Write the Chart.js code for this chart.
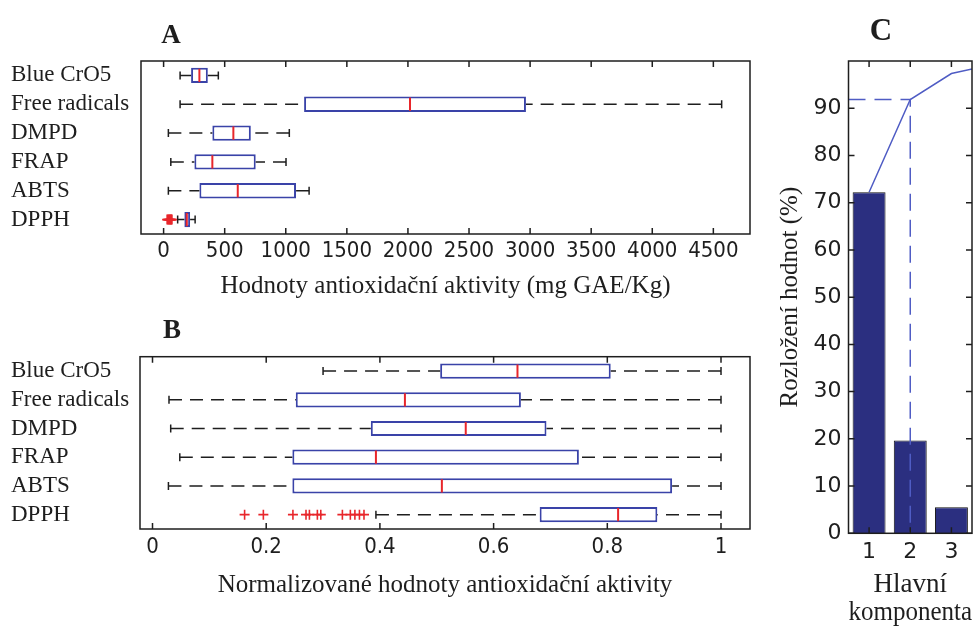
<!DOCTYPE html>
<html>
<head>
<meta charset="utf-8">
<script src="https://cdn.jsdelivr.net/npm/chart.js@4"></script>
<style>
html,body{margin:0;padding:0;background:#fff;}
#wrap{position:relative;width:977px;height:630px;overflow:hidden;background:#fff;}
canvas{position:absolute;}
#cA{left:0;top:0;}
#cB{left:0;top:300px;}
#cC{left:760px;top:0;}
</style>
</head>
<body>
<div id="wrap">
  <canvas id="cA" width="760" height="320"></canvas>
  <canvas id="cB" width="760" height="330"></canvas>
  <canvas id="cC" width="217" height="630"></canvas>
</div>
<script>
// ---------------- DATA ----------------
const categories = ['Blue CrO5', 'Free radicals', 'DMPD', 'FRAP', 'ABTS', 'DPPH'];

// Panel A: antioxidant activity (mg GAE/Kg)
const aWhiskerLow  = [135, 135, 39, 59, 39, 115];
const aQ1          = [225, 1150, 399, 252, 293, 170];
const aMedian      = [293, 2017, 571, 399, 607, 190];
const aQ3          = [362, 2966, 714, 754, 1084, 217];
const aWhiskerHigh = [448, 4568, 1029, 1002, 1191, 258];
const aOutliers    = [[], [], [], [], [], [29, 36, 42, 48, 53, 58, 63, 68]];
const aTicks       = [0, 500, 1000, 1500, 2000, 2500, 3000, 3500, 4000, 4500];

// Panel B: normalized antioxidant activity
const bWhiskerLow  = [0.300, 0.029, 0.032, 0.048, 0.028, 0.393];
const bQ1          = [0.506, 0.252, 0.384, 0.246, 0.246, 0.681];
const bMedian      = [0.642, 0.444, 0.551, 0.393, 0.509, 0.819];
const bQ3          = [0.806, 0.648, 0.693, 0.750, 0.914, 0.888];
const bWhiskerHigh = [1, 1, 1, 1, 1, 1];
const bOutliers    = [[], [], [], [], [], [0.162, 0.195, 0.247, 0.270, 0.276, 0.290, 0.296, 0.334, 0.348, 0.356, 0.364, 0.372]];
const bTicks       = [0, 0.2, 0.4, 0.6, 0.8, 1];

// Panel C: principal components (pareto)
const components   = [1, 2, 3];
const explained    = [72.2, 19.65, 5.5];
const cumulativeX  = [1, 2, 3, 4];
const cumulative   = [72.2, 91.85, 97.35, 99.3];
const cXTicks      = [1, 2, 3];
const cYTicks      = [0, 10, 20, 30, 40, 50, 60, 70, 80, 90];

// ---------------- STYLE ----------------
const INK = '#1e1e1e';
const BOX_BLUE = '#3a43a8';
const MED_RED = '#e8262b';
const BAR_FILL = '#2b2f80';
const LINE_BLUE = '#4f5cc4';
const SERIF = "'Liberation Serif','Times New Roman',serif";
const NARROW = "'Liberation Sans Narrow','DejaVu Sans Condensed','Arial Narrow',sans-serif";
const SANS = "'DejaVu Sans',Verdana,sans-serif";

function framePlugin(cfg) {
  return {
    id: 'frame',
    afterDraw(chart) {
      const {ctx, chartArea: a, scales} = chart;
      ctx.save();
      ctx.strokeStyle = INK;
      ctx.lineWidth = 1.5;
      ctx.setLineDash([]);
      ctx.strokeRect(a.left, a.top, a.width, a.height);
      const L = 6;
      ctx.beginPath();
      if (cfg.xTicks) {
        scales.x.ticks.forEach(t => {
          const px = scales.x.getPixelForValue(t.value);
          ctx.moveTo(px, a.bottom); ctx.lineTo(px, a.bottom - L);
          ctx.moveTo(px, a.top); ctx.lineTo(px, a.top + L);
        });
      }
      if (cfg.yTicks) {
        scales.y.ticks.forEach(t => {
          const py = scales.y.getPixelForValue(t.value);
          ctx.moveTo(a.left, py); ctx.lineTo(a.left + L, py);
          ctx.moveTo(a.right, py); ctx.lineTo(a.right - L, py);
        });
      }
      ctx.stroke();
      ctx.fillStyle = INK;
      ctx.font = 'bold ' + cfg.letter.size + 'px ' + SERIF;
      ctx.textAlign = 'center';
      ctx.textBaseline = 'alphabetic';
      ctx.fillText(cfg.letter.text, cfg.letter.x, cfg.letter.y);
      ctx.restore();
    }
  };
}

function boxPlugin(s) {
  return {
    id: 'boxExtras',
    afterDatasetsDraw(chart) {
      const {ctx, chartArea: a, scales: {x, y}} = chart;
      const meta = chart.getDatasetMeta(0);
      ctx.save();
      ctx.beginPath();
      ctx.rect(a.left, a.top, a.width, a.height);
      ctx.clip();
      s.lo.forEach((_, i) => {
        const yc = y.getPixelForValue(i);
        const h = meta.data[i].height / 2;
        const pLo = x.getPixelForValue(s.lo[i]);
        const pQ1 = x.getPixelForValue(s.q1[i]);
        const pMed = x.getPixelForValue(s.med[i]);
        const pQ3 = x.getPixelForValue(s.q3[i]);
        const pHi = x.getPixelForValue(s.hi[i]);
        ctx.strokeStyle = INK;
        ctx.lineWidth = 1.5;
        ctx.setLineDash([13, 8]);
        ctx.beginPath();
        ctx.moveTo(pLo, yc); ctx.lineTo(pQ1, yc);
        ctx.moveTo(pHi, yc); ctx.lineTo(pQ3, yc);
        ctx.stroke();
        ctx.setLineDash([]);
        ctx.beginPath();
        ctx.moveTo(pLo, yc - 4); ctx.lineTo(pLo, yc + 4);
        ctx.moveTo(pHi, yc - 4); ctx.lineTo(pHi, yc + 4);
        ctx.stroke();
        ctx.strokeStyle = MED_RED;
        ctx.lineWidth = 2;
        ctx.beginPath();
        ctx.moveTo(pMed, yc - h + 1); ctx.lineTo(pMed, yc + h - 1);
        ctx.stroke();
        ctx.lineWidth = 1.6;
        s.out[i].forEach(v => {
          const px = x.getPixelForValue(v);
          ctx.beginPath();
          ctx.moveTo(px - 5, yc); ctx.lineTo(px + 5, yc);
          ctx.moveTo(px, yc - 5); ctx.lineTo(px, yc + 5);
          ctx.stroke();
        });
      });
      ctx.restore();
    }
  };
}

function boxChart(id, s, ticks, xmin, xmax, title, geo) {
  return new Chart(document.getElementById(id), {
    type: 'bar',
    data: {
      labels: categories,
      datasets: [{
        data: categories.map((_, i) => [s.q1[i], s.q3[i]]),
        backgroundColor: '#ffffff',
        borderColor: BOX_BLUE,
        borderWidth: 2,
        borderSkipped: false,
        barPercentage: 0.53,
        categoryPercentage: 1
      }]
    },
    options: {
      indexAxis: 'y',
      responsive: false,
      animation: false,
      events: [],
      layout: {padding: {left: 11, right: 10, top: geo.top, bottom: 0}},
      plugins: {legend: {display: false}, tooltip: {enabled: false}, title: {display: false}},
      scales: {
        x: {
          type: 'linear', min: xmin, max: xmax,
          afterBuildTicks: sc => { sc.ticks = ticks.map(v => ({value: v})); },
          afterFit: sc => { sc.height = geo.xh; },
          grid: {display: false, drawTicks: false},
          border: {display: false},
          ticks: {font: {family: NARROW, size: 22}, color: INK, padding: geo.tp, maxRotation: 0, autoSkip: false, callback: v => String(v)},
          title: {display: true, text: title, font: {family: SERIF, size: 25}, color: INK, padding: {top: 0, bottom: geo.tb}}
        },
        y: {
          type: 'category',
          afterFit: sc => { sc.width = geo.yw; },
          grid: {display: false, drawTicks: false},
          border: {display: false},
          ticks: {crossAlign: 'far', font: {family: SERIF, size: 23}, color: INK, padding: 0, autoSkip: false}
        }
      }
    },
    plugins: [boxPlugin(s), framePlugin({xTicks: true, yTicks: false, letter: geo.letter})]
  });
}

boxChart('cA',
  {lo: aWhiskerLow, q1: aQ1, med: aMedian, q3: aQ3, hi: aWhiskerHigh, out: aOutliers},
  aTicks, -185, 4800, 'Hodnoty antioxidační aktivity (mg GAE/Kg)',
  {top: 61, xh: 86, tp: 4, tb: 19, yw: 130, letter: {text: 'A', x: 171, y: 43, size: 27}});

boxChart('cB',
  {lo: bWhiskerLow, q1: bQ1, med: bMedian, q3: bQ3, hi: bWhiskerHigh, out: bOutliers},
  bTicks, -0.022, 1.051, 'Normalizované hodnoty antioxidační aktivity',
  {top: 56.7, xh: 101, tp: 5, tb: 30, yw: 129, letter: {text: 'B', x: 172, y: 38, size: 27}});

const cXMin = 0.5, cXMax = 3.5;
new Chart(document.getElementById('cC'), {
  type: 'bar',
  data: {
    datasets: [
      {
        type: 'line',
        data: cumulativeX.map((x, i) => ({x: x, y: cumulative[i]})),
        borderColor: LINE_BLUE, borderWidth: 1.5, pointRadius: 0, tension: 0, fill: false, order: 1
      },
      {
        type: 'line',
        data: [{x: cXMin, y: cumulative[1]}, {x: components[1], y: cumulative[1]}, {x: components[1], y: 0}],
        borderColor: LINE_BLUE, borderWidth: 1.5, borderDash: [17, 9], pointRadius: 0, tension: 0, fill: false, order: 2
      },
      {
        type: 'bar',
        data: components.map((x, i) => ({x: x, y: explained[i]})),
        backgroundColor: BAR_FILL, borderColor: '#111111', borderWidth: 1,
        barPercentage: 0.8, categoryPercentage: 1, order: 3
      }
    ]
  },
  options: {
    responsive: false,
    animation: false,
    events: [],
    layout: {padding: {left: 0, right: 5, top: 61, bottom: 0}},
    plugins: {legend: {display: false}, tooltip: {enabled: false}},
    scales: {
      x: {
        type: 'linear', min: cXMin, max: cXMax, offset: false,
        afterBuildTicks: sc => { sc.ticks = cXTicks.map(v => ({value: v})); },
        afterFit: sc => { sc.height = 96.7; },
        grid: {display: false, drawTicks: false},
        border: {display: false},
        ticks: {font: {family: SANS, size: 22}, color: INK, padding: 5.5, maxRotation: 0, autoSkip: false, callback: v => String(v)},
        title: {display: true, text: ['Hlavní', 'komponenta'], font: {family: SERIF, size: 27, lineHeight: '28px'}, color: INK, padding: {top: 0, bottom: 3}}
      },
      y: {
        type: 'linear', min: 0, max: 100,
        afterBuildTicks: sc => { sc.ticks = cYTicks.map(v => ({value: v})); },
        afterFit: sc => { sc.width = 88.5; },
        grid: {display: false, drawTicks: false},
        border: {display: false},
        ticks: {font: {family: SANS, size: 22}, color: INK, padding: 7, autoSkip: false, callback: v => String(v)},
        title: {display: true, text: 'Rozložení hodnot (%)', font: {family: SERIF, size: 25}, color: INK, padding: {top: 15, bottom: 0}}
      }
    }
  },
  plugins: [framePlugin({xTicks: true, yTicks: true, letter: {text: 'C', x: 121, y: 40, size: 31}})]
});
</script>
</body>
</html>
